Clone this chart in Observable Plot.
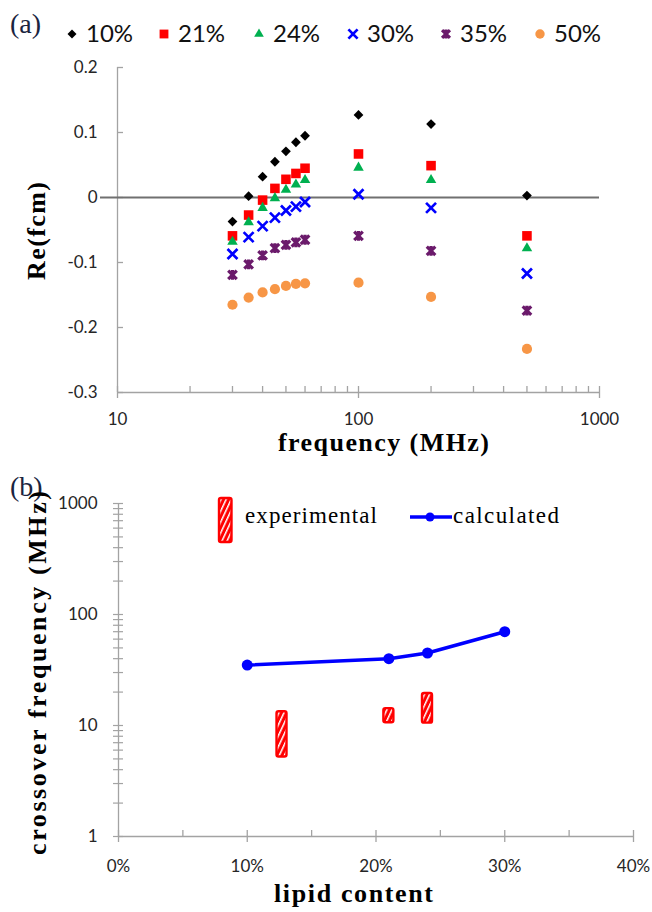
<!DOCTYPE html>
<html><head><meta charset="utf-8">
<script src="https://cdn.jsdelivr.net/npm/d3@7"></script>
<script src="https://cdn.jsdelivr.net/npm/@observablehq/plot@0.6"></script>
<style>
body{margin:0;background:#fff;}
#wrap{width:652px;height:912px;position:relative;overflow:hidden;background:#fff}
#wrap svg{display:block}
</style></head><body><div id="wrap"></div>
<script>
// ---------- Panel (a) data ----------
const frequency = [30, 35, 40, 45, 50, 55, 60, 100, 200, 500];
const lipidLabels = ["10%", "21%", "24%", "30%", "35%", "50%"];
const re10 = [-0.037, 0.002, 0.032, 0.055, 0.071, 0.085, 0.095, 0.127, 0.113, 0.003];
const re21 = [-0.059, -0.027, -0.004, 0.014, 0.028, 0.037, 0.045, 0.067, 0.049, -0.059];
const re24 = [-0.068, -0.038, -0.016, -0.001, 0.012, 0.020, 0.027, 0.046, 0.027, -0.078];
const re30 = [-0.087, -0.061, -0.044, -0.031, -0.020, -0.014, -0.007, 0.005, -0.016, -0.117];
const re35 = [-0.119, -0.103, -0.089, -0.078, -0.073, -0.069, -0.065, -0.059, -0.082, -0.174];
const re50 = [-0.165, -0.154, -0.146, -0.141, -0.136, -0.133, -0.132, -0.131, -0.153, -0.233];
const freqTicks = [10, 100, 1000];
const freqMinorTicks = [20, 30, 40, 50, 60, 70, 80, 90, 200, 300, 400, 500, 600, 700, 800, 900];
const reTicks = [-0.3, -0.2, -0.1, 0, 0.1, 0.2];

// ---------- Panel (b) data ----------
const lipidCalc = [10, 21, 24, 30];
const crossCalc = [35, 40, 45, 70];
const lipidExp = [12.7, 21, 24];
const crossExpLow = [5.2, 10.6, 10.5];
const crossExpHigh = [13.3, 14.2, 19.4];
const crossTicks = [1, 10, 100, 1000];
const crossMinorTicks = [2, 3, 4, 5, 6, 7, 8, 9, 20, 30, 40, 50, 60, 70, 80, 90, 200, 300, 400, 500, 600, 700, 800, 900];
const lipidTicks = [0, 10, 20, 30, 40];
const lipidMinorTicks = [5, 15, 25, 35];

// ---------- styles ----------
const fontSans = "Lato, 'Open Sans', sans-serif";
const fontSerif = "'Liberation Serif', 'Times New Roman', serif";
const axisGrey = "#a3a3a3";
const labelColor = "#262626";
const starSymbol = {
  draw(context, size) {
    const r = Math.sqrt(size / Math.PI) * 0.95;
    context.moveTo(-r, -r); context.lineTo(r, r);
    context.moveTo(-r, r); context.lineTo(r, -r);
    context.moveTo(0, -r * 1.15); context.lineTo(0, r * 1.15);
  }
};
const markStyle = {
  "10%": {symbol: d3.symbolDiamond2, fill: "#000000", stroke: "none", r: 4.4},
  "21%": {symbol: d3.symbolSquare, fill: "#ff0000", stroke: "none", r: 5.4},
  "24%": {symbol: d3.symbolTriangle, fill: "#00b050", stroke: "none", r: 3.9},
  "30%": {symbol: d3.symbolTimes, fill: "none", stroke: "#0000ff", strokeWidth: 2.7, r: 4.6},
  "35%": {symbol: starSymbol, fill: "none", stroke: "#6b1a6b", strokeWidth: 3.2, r: 4.5},
  "50%": {symbol: d3.symbolCircle, fill: "#f79646", stroke: "none", r: 5.1}
};

const seriesValues = [re10, re21, re24, re30, re35, re50];
const rowsA = lipidLabels.flatMap((lab, s) =>
  frequency.map((f, i) => ({lipid: lab, freq: f, re: seriesValues[s][i]})));

const svgA = Plot.plot({
  width: 652, height: 460,
  marginLeft: 117, marginRight: 53, marginTop: 67, marginBottom: 68,
  x: {type: "log", domain: [10, 1000]},
  y: {domain: [-0.3, 0.2]},
  style: {fontFamily: fontSans, background: "white", overflow: "visible"},
  marks: [
    Plot.ruleX([10], {stroke: axisGrey, strokeWidth: 1.3}),
    Plot.ruleY([-0.3], {stroke: axisGrey, strokeWidth: 1.3}),
    Plot.axisY(reTicks, {anchor: "left", tickSize: -6, stroke: axisGrey, strokeWidth: 1.3, fill: "none", label: null}),
    Plot.axisY(reTicks, {anchor: "left", tickSize: 0, tickPadding: 20, tickFormat: d => String(d), fill: labelColor, fontSize: 17, label: null}),
    Plot.axisX(freqTicks, {anchor: "bottom", tickSize: 6, stroke: axisGrey, strokeWidth: 1.3, fill: "none", label: null}),
    Plot.axisX(freqTicks.concat(freqMinorTicks), {anchor: "bottom", tickSize: -6, stroke: axisGrey, strokeWidth: 1.3, fill: "none", label: null}),
    Plot.axisX(freqTicks, {anchor: "bottom", tickSize: 0, tickPadding: 20, tickFormat: d => String(d), fill: labelColor, fontSize: 17, label: null}),
    Plot.ruleY([0], {stroke: "#707070", strokeWidth: 2, insetLeft: -17}),
    ...lipidLabels.map(lab => Plot.dot(rowsA.filter(d => d.lipid === lab), {x: "freq", y: "re", ...markStyle[lab]}))
  ]
});

// panel (a) titles and legend
{
  const s = d3.select(svgA);
  s.append("text").attr("x", 10).attr("y", 33).attr("text-anchor", "start").attr("font-family", fontSerif).attr("font-size", 28)
    .attr("fill", "#1a2440").text("(a)");
  const legendX = [72, 164, 259, 353, 446, 540];
  lipidLabels.forEach((lab, i) => {
    const st = markStyle[lab];
    s.append("path").attr("transform", `translate(${legendX[i]},34)`)
      .attr("d", d3.symbol(st.symbol, Math.PI * st.r * st.r * 0.85)())
      .attr("fill", st.fill).attr("stroke", st.stroke).attr("stroke-width", st.strokeWidth || null);
    s.append("text").attr("x", legendX[i] + 14).attr("y", 42).attr("text-anchor", "start").attr("font-family", fontSans)
      .attr("font-size", 24).attr("fill", "#111").text(lab);
  });
  s.append("text").attr("x", 278).attr("y", 451).attr("text-anchor", "start").attr("font-family", fontSerif).attr("font-weight", "bold")
    .attr("font-size", 26).attr("textLength", 211).attr("lengthAdjust", "spacing").attr("fill", "#000").text("frequency (MHz)");
  s.append("text").attr("transform", "translate(45,231) rotate(-90)").attr("text-anchor", "middle")
    .attr("font-family", fontSerif).attr("font-weight", "bold").attr("font-size", 26)
    .attr("textLength", 98).attr("lengthAdjust", "spacing").attr("fill", "#000").text("Re(fcm)");
}

// ---------- Panel (b) ----------
const calcRows = lipidCalc.map((l, i) => ({lipid: l, cross: crossCalc[i]}));
const expRows = lipidExp.map((l, i) => ({lipid: l, low: crossExpLow[i], high: crossExpHigh[i]}));

const svgB = Plot.plot({
  width: 652, height: 452,
  marginLeft: 118, marginRight: 19, marginTop: 43, marginBottom: 76,
  x: {domain: [0, 40]},
  y: {type: "log", domain: [1, 1000]},
  style: {fontFamily: fontSans, background: "white", overflow: "visible"},
  marks: [
    Plot.ruleX([0], {stroke: axisGrey, strokeWidth: 1.3}),
    Plot.ruleY([1], {stroke: axisGrey, strokeWidth: 1.3}),
    Plot.axisY(crossTicks.concat(crossMinorTicks), {anchor: "left", tickSize: 5, stroke: axisGrey, strokeWidth: 1.2, fill: "none", label: null}),
    Plot.axisY(crossTicks.concat(crossMinorTicks), {anchor: "left", tickSize: -5, stroke: axisGrey, strokeWidth: 1.2, fill: "none", label: null}),
    Plot.axisY(crossTicks, {anchor: "left", tickSize: 0, tickPadding: 21, tickFormat: d => String(d), fill: labelColor, fontSize: 17, label: null}),
    Plot.axisX(lipidTicks, {anchor: "bottom", tickSize: 6, stroke: axisGrey, strokeWidth: 1.3, fill: "none", label: null}),
    Plot.axisX(lipidTicks.concat(lipidMinorTicks), {anchor: "bottom", tickSize: -6, stroke: axisGrey, strokeWidth: 1.3, fill: "none", label: null}),
    Plot.axisX(lipidTicks, {anchor: "bottom", tickSize: 0, tickPadding: 23, tickFormat: d => d + "%", fill: labelColor, fontSize: 17, label: null}),
    Plot.rect(expRows, {x1: "lipid", x2: "lipid", y1: "low", y2: "high", insetLeft: -5, insetRight: -5,
      fill: "url(#hatch)", stroke: "#ff0000", strokeWidth: 2.4, rx: 2}),
    Plot.line(calcRows, {x: "lipid", y: "cross", stroke: "#0000ff", strokeWidth: 3.5}),
    Plot.dot(calcRows, {x: "lipid", y: "cross", r: 5.5, fill: "#0000ff"})
  ]
});

{
  const s = d3.select(svgB);
  const pat = s.insert("defs", ":first-child").append("pattern").attr("id", "hatch")
    .attr("patternUnits", "userSpaceOnUse").attr("width", 4.6).attr("height", 10)
    .attr("patternTransform", "rotate(25)");
  pat.append("rect").attr("width", 4.6).attr("height", 10).attr("fill", "#ff0000");
  pat.append("rect").attr("width", 1.5).attr("height", 10).attr("fill", "#ffffff");

  s.append("text").attr("x", 10).attr("y", 36).attr("text-anchor", "start").attr("font-family", fontSerif).attr("font-size", 28)
    .attr("fill", "#1a2440").text("(b)");
  // legend
  s.append("rect").attr("x", 219).attr("y", 38).attr("width", 12.5).attr("height", 44).attr("rx", 2)
    .attr("fill", "url(#hatch)").attr("stroke", "#ff0000").attr("stroke-width", 2.4);
  s.append("text").attr("x", 245).attr("y", 63).attr("text-anchor", "start").attr("font-family", fontSerif).attr("font-size", 23)
    .attr("textLength", 132).attr("lengthAdjust", "spacing").attr("fill", "#000").text("experimental");
  s.append("line").attr("x1", 410).attr("x2", 452).attr("y1", 57).attr("y2", 57)
    .attr("stroke", "#0000ff").attr("stroke-width", 3.5);
  s.append("circle").attr("cx", 430).attr("cy", 57).attr("r", 4.5).attr("fill", "#0000ff");
  s.append("text").attr("x", 453).attr("y", 63).attr("text-anchor", "start").attr("font-family", fontSerif).attr("font-size", 23)
    .attr("textLength", 106).attr("lengthAdjust", "spacing").attr("fill", "#000").text("calculated");
  // axis titles
  s.append("text").attr("x", 274).attr("y", 442).attr("text-anchor", "start").attr("font-family", fontSerif).attr("font-weight", "bold")
    .attr("font-size", 26).attr("textLength", 159).attr("lengthAdjust", "spacing").attr("fill", "#000").text("lipid content");
  s.append("text").attr("transform", "translate(46,213) rotate(-90)").attr("text-anchor", "middle")
    .attr("font-family", fontSerif).attr("font-weight", "bold").attr("font-size", 26)
    .attr("textLength", 364).attr("lengthAdjust", "spacing").attr("fill", "#000").text("crossover frequency (MHz)");
}

document.getElementById("wrap").append(svgA, svgB);
</script></body></html>
